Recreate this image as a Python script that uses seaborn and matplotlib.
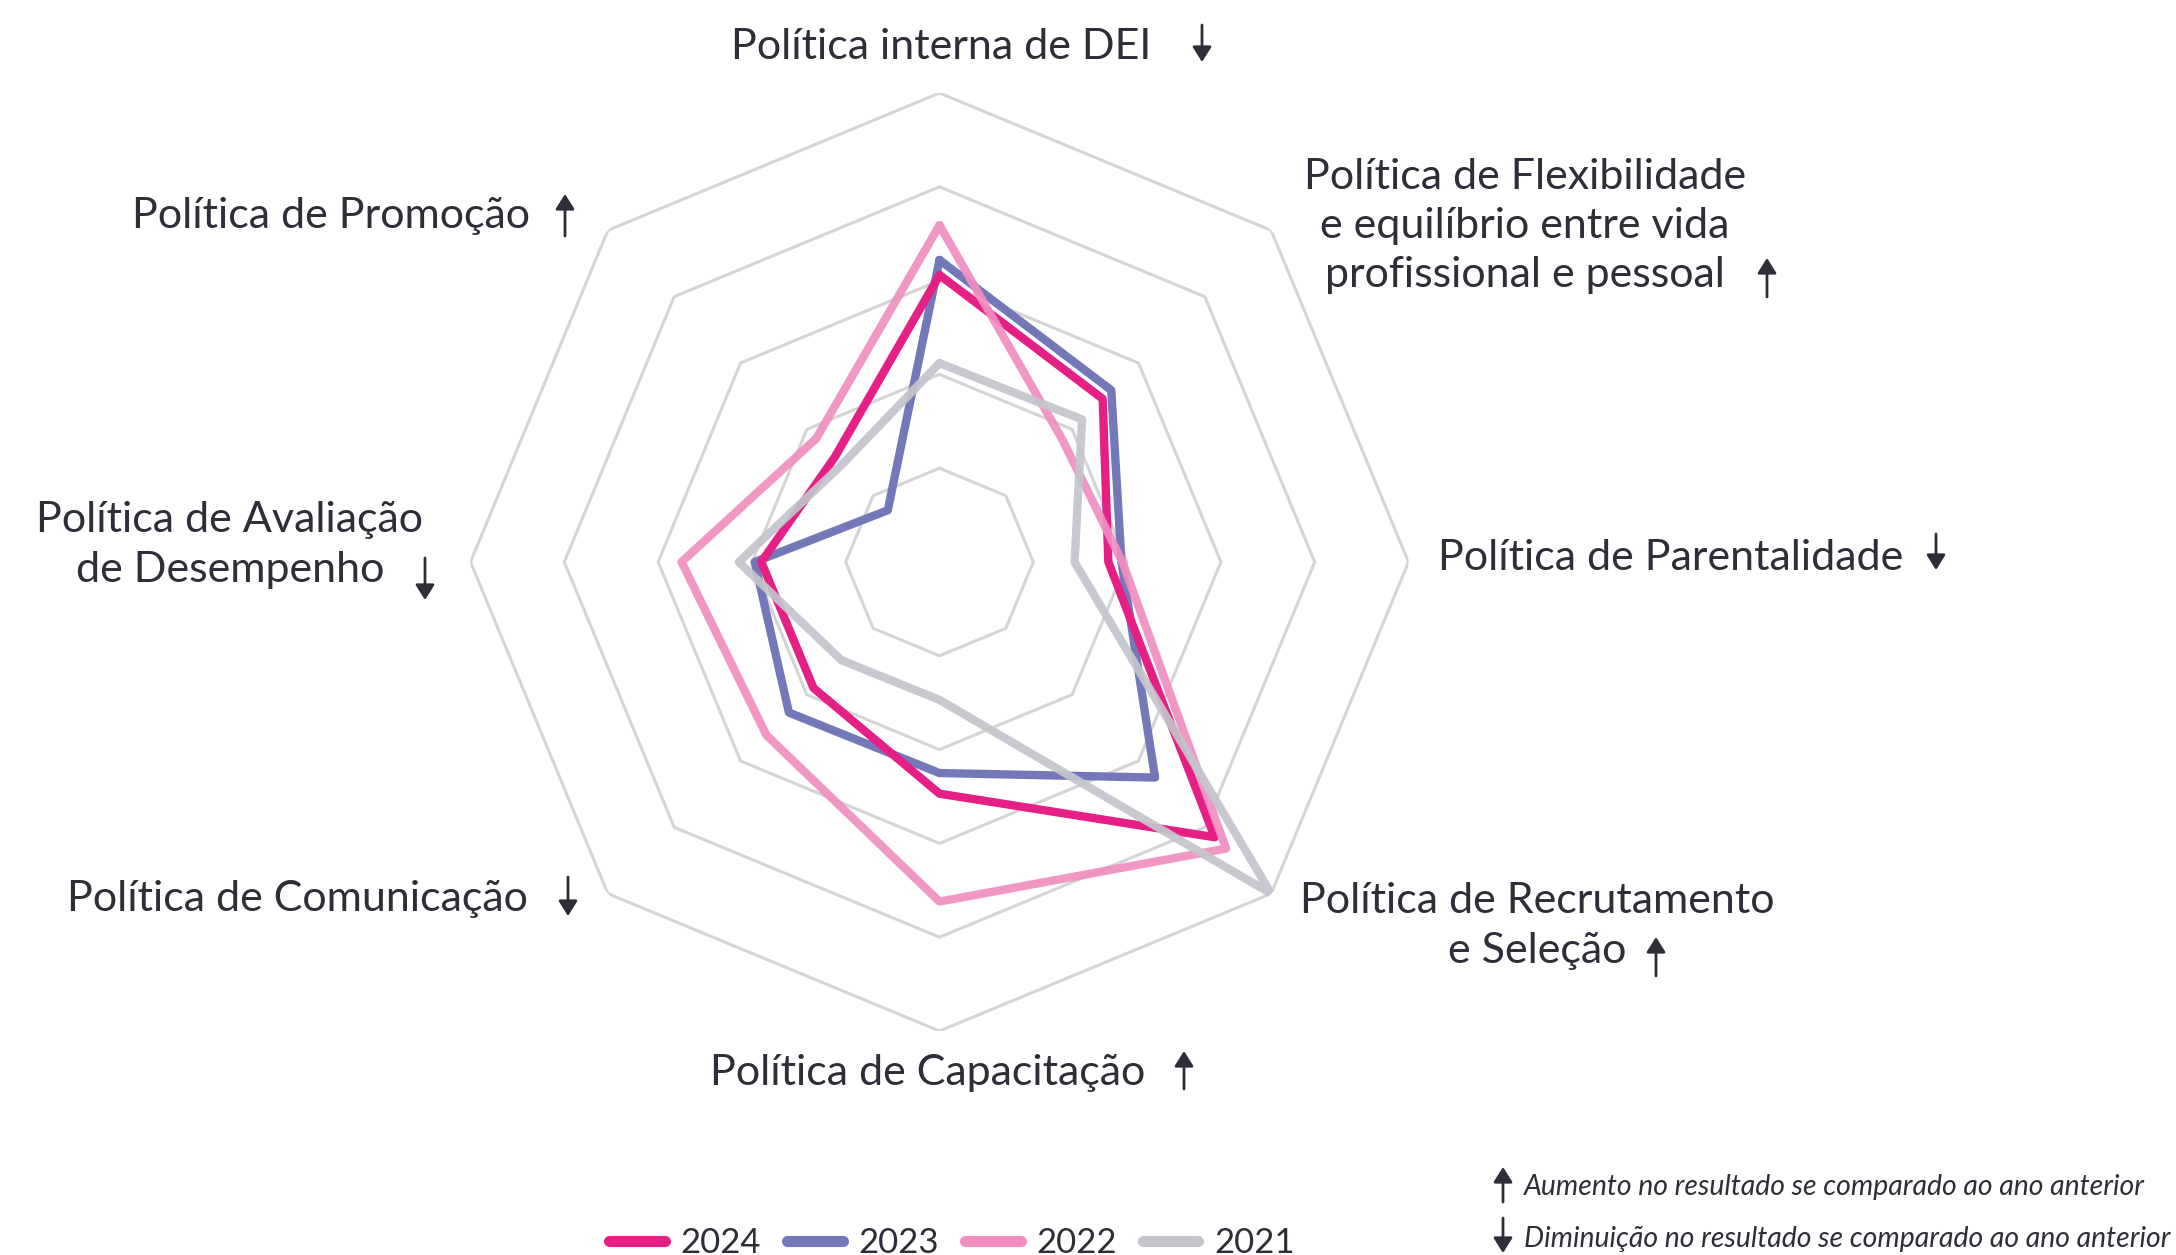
import matplotlib
matplotlib.use("Agg")
import matplotlib.pyplot as plt
from matplotlib.lines import Line2D
import numpy as np
import pandas as pd
import seaborn as sns

sns.set_style("white")
plt.rcParams['font.family'] = ['Lato', 'DejaVu Sans']

# axes, clockwise from the top
categories = ["Política interna de DEI",
              "Política de Flexibilidade\ne equilíbrio entre vida\nprofissional e pessoal",
              "Política de Parentalidade",
              "Política de Recrutamento\ne Seleção",
              "Política de Capacitação",
              "Política de Comunicação",
              "Política de Avaliação\nde Desempenho",
              "Política de Promoção"]
trend = ["down", "up", "down", "up", "up", "down", "down", "up"]

years = ["2024", "2023", "2022", "2021"]
v2024 = [3.06, 2.46, 1.80, 4.15, 2.47, 1.90, 1.90, 1.58]
v2023 = [3.22, 2.59, 1.94, 3.25, 2.25, 2.27, 1.97, 0.78]
v2022 = [3.59, 1.85, 1.95, 4.32, 3.62, 2.61, 2.75, 1.86]
v2021 = [2.12, 2.15, 1.44, 5.00, 1.47, 1.48, 2.14, 1.47]
levels = [1, 2, 3, 4, 5]

colors = {"2024": "#E61F84", "2023": "#7378B8", "2022": "#F08EC1", "2021": "#C4C5CC"}
TXT = "#2E2E38"
GRID = "#D4D4D4"

n = len(categories)
angles = np.arange(n) * 2 * np.pi / n
closed = np.append(angles, angles[0])

rows = []
for y, vals in zip(years, [v2024, v2023, v2022, v2021]):
    vv = list(vals) + [vals[0]]
    for i, (a, v) in enumerate(zip(closed, vv)):
        rows.append({"year": y, "order": i, "theta": a, "value": v})
df = pd.DataFrame(rows)

W, H = 2176, 1255
fig = plt.figure(figsize=(W / 100, H / 100), dpi=100)
cx, cy, R = 939.5, 562, 469
ax = fig.add_axes([(cx - R) / W, (H - cy - R) / H, 2 * R / W, 2 * R / H], projection="polar")
ax.set_theta_zero_location("N")
ax.set_theta_direction(-1)

# octagon grid
for lv in levels:
    ax.plot(closed, [lv] * len(closed), color=GRID, lw=2.2, zorder=0)

draw_order = ["2023", "2024", "2022", "2021"]
for y in draw_order:
    sns.lineplot(data=df[df.year == y], x="theta", y="value", sort=False, estimator=None,
                 color=colors[y], lw=6, ax=ax, legend=False,
                 alpha=1.0 if y in ("2023", "2024") else 0.92,
                 solid_joinstyle="round", solid_capstyle="round", zorder=2)

ax.set_ylim(0, 5)
ax.set_xticks([])
ax.set_yticks([])
ax.set_xlabel("")
ax.set_ylabel("")
ax.grid(False)
ax.spines["polar"].set_visible(False)
ax.patch.set_alpha(0)


def px(x, y):
    return x / W, 1 - y / H


def arrow(x, y0, y1, direction):
    # y0 top, y1 bottom (pixels from top)
    top, bot = (x, H - y0), (x, H - y1)
    start, end = (bot, top) if direction == "up" else (top, bot)
    fig.add_artist(matplotlib.patches.FancyArrowPatch(
        start, end, transform=None, arrowstyle="-|>,head_length=0.35,head_width=0.22",
        mutation_scale=26, lw=2, color=TXT, shrinkA=0, shrinkB=0))


FS = 31
# label center (px) and arrow x, top, bottom (px)
lab_pos = [
    (941, 47, 1202, 25, 62),
    (1525, 226, 1767, 258, 297),
    (1671, 558, 1936, 534, 570),
    (1537, 926, 1656, 937, 976),
    (928, 1073, 1184, 1051, 1089),
    (297, 899, 568, 877, 916),
    (230, 545, 425, 558, 600),
    (331, 216, 565, 194, 236),
]
for lab, tr, (tx, ty, axx, a0, a1) in zip(categories, trend, lab_pos):
    fig.text(*px(tx, ty), lab, ha="center", va="center", multialignment="center",
             fontsize=FS, color=TXT, linespacing=1.36)
    arrow(axx, a0, a1, tr)

# legend
handles = [Line2D([0], [0], color=colors[y], lw=8, solid_capstyle="round") for y in years]
leg = fig.legend(handles, years, loc="center", bbox_to_anchor=px(952, 1243), ncol=4,
                 frameon=False, fontsize=25, handlelength=1.6, handletextpad=0.45,
                 columnspacing=0.75, borderaxespad=0, borderpad=0)
for t in leg.get_texts():
    t.set_color(TXT)

# note
arrow(1503, 1167, 1202, "up")
fig.text(*px(1524, 1187), "Aumento no resultado se comparado ao ano anterior", ha="left", va="center",
         fontsize=20.4, style="italic", color=TXT)
arrow(1503, 1218, 1253, "down")
fig.text(*px(1524, 1239), "Diminuição no resultado se comparado ao ano anterior", ha="left", va="center",
         fontsize=20.4, style="italic", color=TXT)

fig.savefig("out.png", dpi=100, facecolor="white")
